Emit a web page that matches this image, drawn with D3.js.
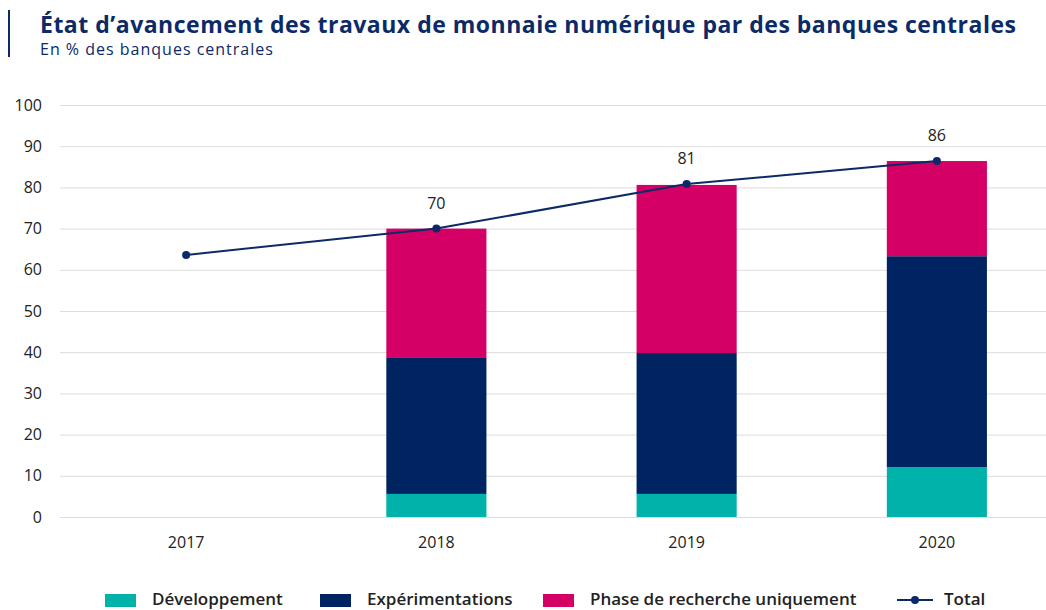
<!DOCTYPE html>
<html>
<head>
<meta charset="utf-8">
<script src="https://cdn.jsdelivr.net/npm/d3@7"></script>
<style>
  body { margin: 0; background: #fff; }
  svg { display: block; font-family: "Open Sans", "Noto Sans", sans-serif; }
</style>
</head>
<body>
<div class="chart"></div>
<script>
const years = ["2017", "2018", "2019", "2020"];
const developpement = [0, 5.6, 5.6, 12.1];
const experimentations = [0, 33.0, 34.2, 51.2];
const recherche = [0, 31.4, 40.8, 23.1];
const total = [63.6, 70, 80.8, 86.4];
const totalLabels = [null, "70", "81", "86"];
const yTicks = [0, 10, 20, 30, 40, 50, 60, 70, 80, 90, 100];

const keys = ["Développement", "Expérimentations", "Phase de recherche uniquement"];
const colors = ["#00b2a9", "#002361", "#d50065"];
const navy = "#0b2a67";

const width = 1046, height = 610;

const rows = years.map((y, i) => ({
  year: y,
  "Développement": developpement[i],
  "Expérimentations": experimentations[i],
  "Phase de recherche uniquement": recherche[i]
}));
const stack = d3.stack().keys(keys)(rows);

const x = d3.scaleBand()
  .domain(years)
  .range([61, 1062])
  .paddingInner(0.6)
  .paddingOuter(0.3);

const y = d3.scaleLinear()
  .domain([0, 100])
  .range([517, 105]);

const color = d3.scaleOrdinal().domain(keys).range(colors);

const svg = d3.select('.chart').append('svg')
  .attr('width', width).attr('height', height);

// title block
svg.append('rect')
  .attr('x', 8).attr('y', 10).attr('width', 2).attr('height', 47)
  .attr('fill', navy);

svg.append('text')
  .attr('x', 40).attr('y', 33)
  .attr('fill', navy)
  .attr('font-size', '23px')
  .attr('font-weight', 'bold')
  .attr('letter-spacing', '0.5px')
  .text("État d’avancement des travaux de monnaie numérique par des banques centrales");

svg.append('text')
  .attr('x', 40).attr('y', 55)
  .attr('fill', navy)
  .attr('font-size', '16px')
  .attr('letter-spacing', '1px')
  .text('En % des banques centrales');

// grid + y axis
svg.append('g')
  .attr('transform', 'translate(60,0)')
  .call(d3.axisLeft(y).tickValues(yTicks).tickSize(0).tickPadding(18))
  .call(g => g.select('.domain').remove())
  .call(g => g.selectAll('.tick text')
    .attr('font-size', '16px')
    .attr('fill', '#222')
    .attr('font-family', '"Open Sans", sans-serif'))
  .call(g => g.selectAll('.tick line')
    .attr('x2', width - 60)
    .attr('stroke', '#dcdcdc')
    .attr('stroke-width', 1));

// bars
svg.append('g')
  .selectAll('g')
  .data(stack)
  .join('g')
    .attr('fill', d => color(d.key))
  .selectAll('rect')
  .data(d => d)
  .join('rect')
    .attr('x', d => x(d.data.year))
    .attr('width', x.bandwidth())
    .attr('y', d => y(d[1]))
    .attr('height', d => y(d[0]) - y(d[1]));

// x axis labels
svg.append('g')
  .attr('transform', 'translate(0,517)')
  .call(d3.axisBottom(x).tickSize(0).tickPadding(20))
  .call(g => g.select('.domain').remove())
  .call(g => g.selectAll('.tick text')
    .attr('font-size', '16px')
    .attr('fill', '#222')
    .attr('font-family', '"Open Sans", sans-serif'));

// total line
const cx = d => x(d.year) + x.bandwidth() / 2;
const pts = years.map((yr, i) => ({ year: yr, value: total[i], label: totalLabels[i] }));

svg.append('path')
  .datum(pts)
  .attr('fill', 'none')
  .attr('stroke', navy)
  .attr('stroke-width', 2)
  .attr('d', d3.line().x(cx).y(d => y(d.value)));

svg.append('g')
  .selectAll('circle')
  .data(pts)
  .join('circle')
    .attr('cx', cx)
    .attr('cy', d => y(d.value))
    .attr('r', 4)
    .attr('fill', navy);

svg.append('g')
  .selectAll('text')
  .data(pts.filter(d => d.label))
  .join('text')
    .attr('x', cx)
    .attr('y', d => y(d.value) - 20)
    .attr('text-anchor', 'middle')
    .attr('font-size', '16px')
    .attr('fill', '#222')
    .text(d => d.label);

// legend
const legendX = [105, 320, 543];
const legend = svg.append('g');
keys.forEach((k, i) => {
  legend.append('rect')
    .attr('x', legendX[i]).attr('y', 594)
    .attr('width', 31).attr('height', 13)
    .attr('fill', color(k));
  legend.append('text')
    .attr('x', legendX[i] + 47).attr('y', 605)
    .attr('font-size', '17px')
    .attr('font-weight', 600)
    .attr('fill', '#222')
    .text(k);
});
legend.append('line')
  .attr('x1', 897).attr('x2', 933).attr('y1', 600).attr('y2', 600)
  .attr('stroke', navy).attr('stroke-width', 2);
legend.append('circle')
  .attr('cx', 915).attr('cy', 600).attr('r', 4).attr('fill', navy);
legend.append('text')
  .attr('x', 944).attr('y', 605)
  .attr('font-size', '17px')
  .attr('font-weight', 600)
  .attr('fill', '#222')
  .text('Total');
</script>
</body>
</html>
